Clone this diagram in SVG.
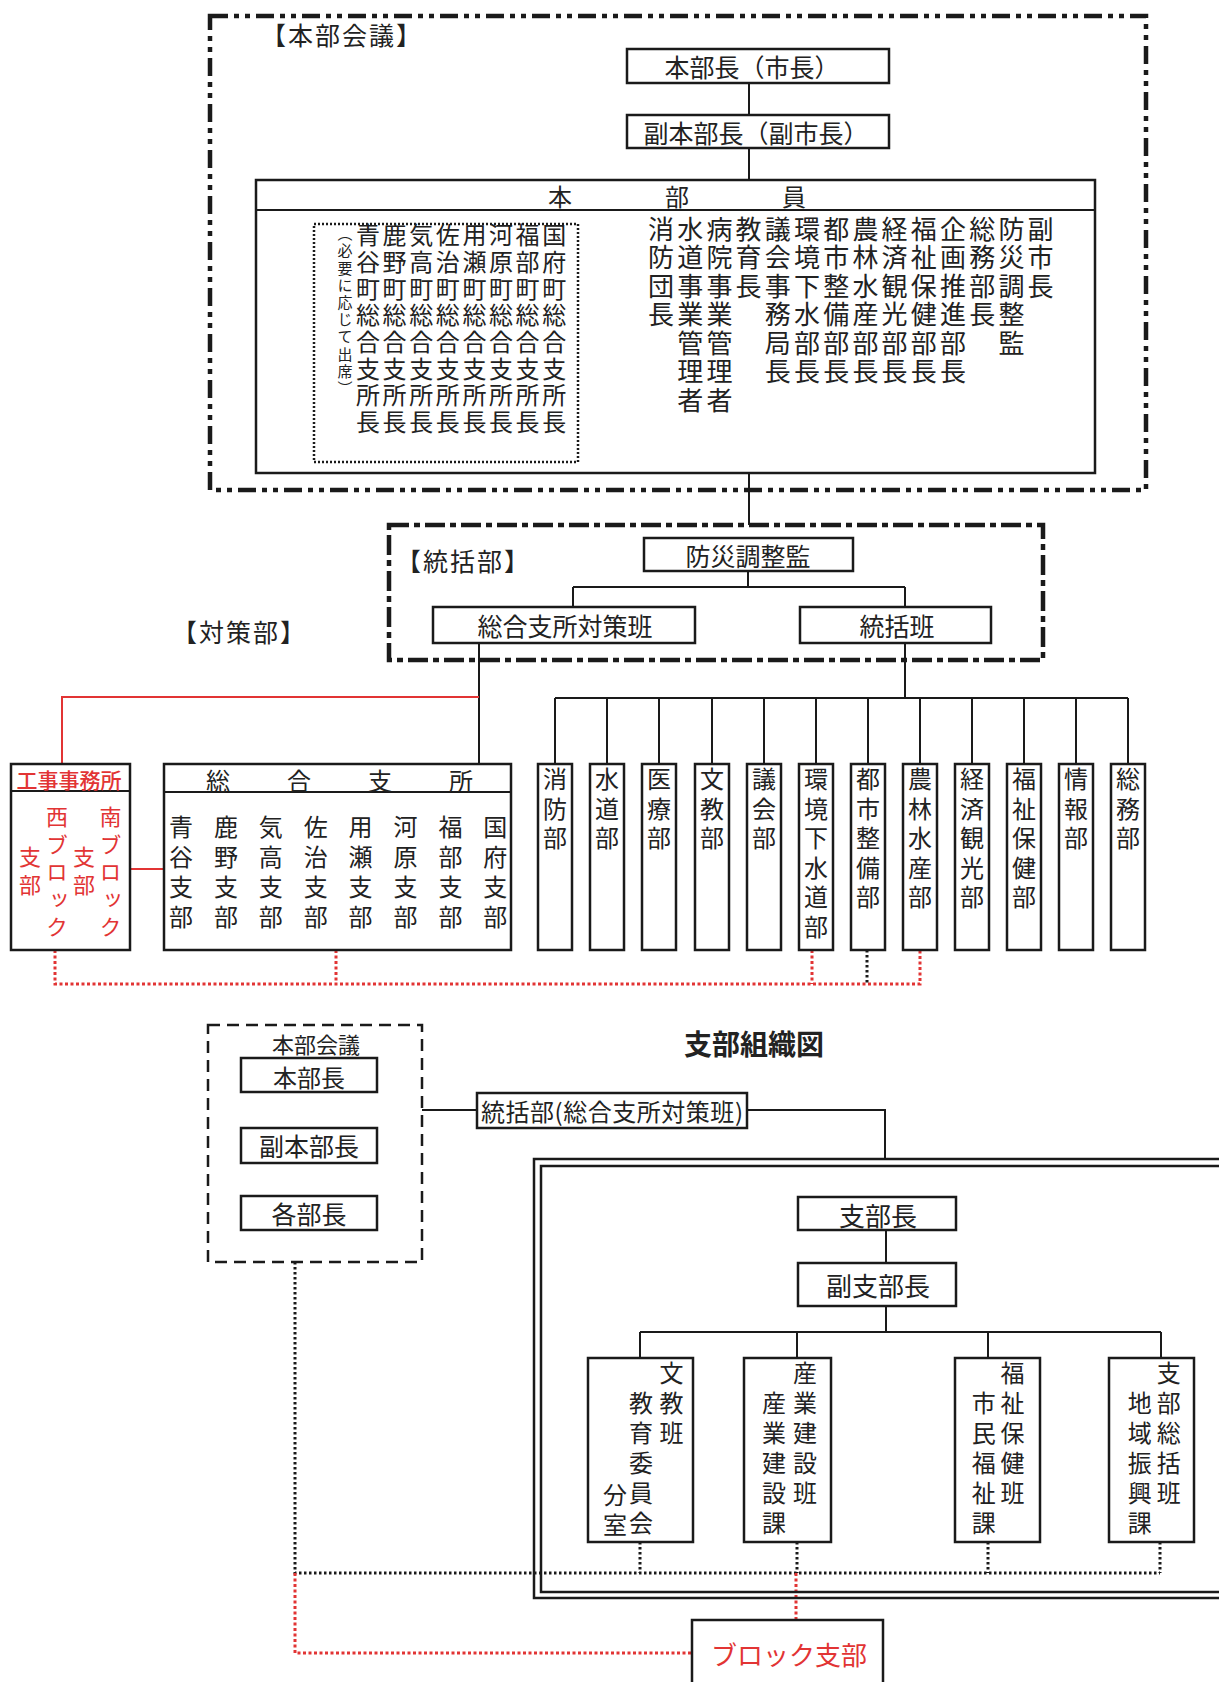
<svg xmlns="http://www.w3.org/2000/svg" width="1219" height="1682" viewBox="0 0 1219 1682">
<defs>
<style>
.t{font-family:"Noto Sans CJK JP","Noto Sans CJK SC",sans-serif;fill:#222;}
.h{text-anchor:middle;dominant-baseline:central;}
.hs{text-anchor:start;dominant-baseline:central;}
.v{writing-mode:vertical-rl;text-anchor:start;}
.r{fill:#e23434;}
.box{fill:#fff;stroke:#1a1a1a;stroke-width:2.5;}
.ln{stroke:#1a1a1a;stroke-width:2;fill:none;}
.rl{stroke:#e23434;stroke-width:2;fill:none;}
.rd{stroke:#e23434;stroke-width:3;stroke-dasharray:3 2.5;fill:none;}
.kd{stroke:#1a1a1a;stroke-width:3;stroke-dasharray:2.5 2.5;fill:none;}
.dd{fill:none;stroke:#1a1a1a;stroke-width:4.5;stroke-dasharray:18 6 5 6 5 6;}
.da{fill:none;stroke:#1a1a1a;stroke-width:4.5;stroke-dasharray:20 5 6 5;}
.dl{fill:none;stroke:#1a1a1a;stroke-width:2.5;stroke-dasharray:12 7;}
.dt{fill:none;stroke:#1a1a1a;stroke-width:2.5;stroke-dasharray:2 2;}
</style>
</defs>
<rect width="1219" height="1682" fill="#fff"/>

<g id="connectors">
<path class="ln" d="M749 83V115M749 148V180M749 473V525"/>
<path class="ln" d="M748 571V587M573 587H905M573 587V607M905 587V607"/>
<path class="ln" d="M479 643V764M905 643V698M555 698H1128"/>
<path class="ln" d="M555 698V764M607 698V764M659 698V764M712 698V764M764 698V764M816 698V764M868 698V764M920 698V764M972 698V764M1024 698V764M1076 698V764M1128 698V764"/>
<path class="rl" d="M479 697H62V764M130 869H164"/>
<path class="rd" d="M55 950V984H920V950M336 950V984M812 950V984"/>
<path class="kd" d="M867 950V984"/>
<path class="ln" d="M422 1110H477M747 1110H885V1159"/>
<path class="ln" d="M886 1230V1263M886 1306V1332M640 1332H1161M640 1332V1358M797 1332V1358M988 1332V1358M1161 1332V1358"/>
<path class="kd" d="M640 1542V1573M797 1542V1573M988 1542V1573M1160 1542V1573M295 1262V1573H1160"/>
<path class="rd" d="M295 1573V1653H692M796 1573V1624"/>
</g>

<g id="honbu-kaigi">
<rect class="dd" x="210" y="16" width="936" height="474"/>
<text class="t hs" x="261" y="34" font-size="25" letter-spacing="2">【本部会議】</text>
</g>

<g id="honbucho">
<rect class="box" x="627" y="49" width="262" height="34"/>
<text class="t h" x="752" y="66" font-size="25">本部長（市長）</text>
</g>
<g id="fukuhonbucho">
<rect class="box" x="627" y="115" width="262" height="33"/>
<text class="t h" x="756" y="132" font-size="25">副本部長（副市長）</text>
</g>

<g id="honbuin">
<rect class="box" x="256" y="180" width="839" height="293"/>
<line class="ln" x1="256" y1="210" x2="1095" y2="210"/>
<text class="t hs" x="548" y="195" font-size="24" letter-spacing="93">本部員</text>
<rect class="dt" x="314" y="224" width="264" height="238"/>
<text class="t v" x="345" y="226" font-size="15" letter-spacing="2.2">（必要に応じて出席）</text>
<g font-size="24" letter-spacing="2.7">
<text class="t v" x="368" y="223">青谷町総合支所長</text>
<text class="t v" x="394.6" y="223">鹿野町総合支所長</text>
<text class="t v" x="421.2" y="223">気高町総合支所長</text>
<text class="t v" x="447.8" y="223">佐治町総合支所長</text>
<text class="t v" x="474.4" y="223">用瀬町総合支所長</text>
<text class="t v" x="501" y="223">河原町総合支所長</text>
<text class="t v" x="527.6" y="223">福部町総合支所長</text>
<text class="t v" x="554.2" y="223">国府町総合支所長</text>
</g>
<g font-size="26" letter-spacing="2.5">
<text class="t v" x="661" y="216">消防団長</text>
<text class="t v" x="690.2" y="216">水道事業管理者</text>
<text class="t v" x="719.4" y="216">病院事業管理者</text>
<text class="t v" x="748.6" y="216">教育長</text>
<text class="t v" x="777.8" y="216">議会事務局長</text>
<text class="t v" x="807" y="216">環境下水部長</text>
<text class="t v" x="836.2" y="216">都市整備部長</text>
<text class="t v" x="865.4" y="216">農林水産部長</text>
<text class="t v" x="894.6" y="216">経済観光部長</text>
<text class="t v" x="923.8" y="216">福祉保健部長</text>
<text class="t v" x="953" y="216">企画推進部長</text>
<text class="t v" x="982.2" y="216">総務部長</text>
<text class="t v" x="1011.4" y="216">防災調整監</text>
<text class="t v" x="1040.6" y="216">副市長</text>
</g>
</g>

<g id="tokatsubu">
<rect class="da" x="389" y="525" width="654" height="135"/>
<text class="t hs" x="396" y="560" font-size="25" letter-spacing="2">【統括部】</text>
</g>
<g id="bosai-choseikan">
<rect class="box" x="644" y="538" width="209" height="33"/>
<text class="t h" x="748" y="555" font-size="25">防災調整監</text>
</g>
<g id="sogo-shisho-taisakuhan">
<rect class="box" x="433" y="607" width="262" height="36"/>
<text class="t h" x="565" y="625" font-size="25">総合支所対策班</text>
</g>
<g id="tokatsuhan">
<rect class="box" x="800" y="607" width="191" height="36"/>
<text class="t h" x="897" y="625" font-size="25">統括班</text>
</g>
<g id="taisakubu-label">
<text class="t hs" x="172" y="631" font-size="25" letter-spacing="2">【対策部】</text>
</g>

<g id="koji-jimusho">
<rect class="box" x="11" y="764" width="119" height="186"/>
<line class="ln" x1="11" y1="791" x2="130" y2="791"/>
<text class="t h r" x="69" y="779" font-size="21" font-weight="500">工事事務所</text>
<g font-size="22" letter-spacing="5.5">
<text class="t v r" x="110.5" y="806">南ブロック</text>
<text class="t v r" x="84" y="846">支部</text>
<text class="t v r" x="57" y="806">西ブロック</text>
<text class="t v r" x="30" y="846">支部</text>
</g>
</g>

<g id="sogo-shisho">
<rect class="box" x="164" y="764" width="347" height="186"/>
<line class="ln" x1="164" y1="792" x2="511" y2="792"/>
<text class="t hs" x="206" y="779" font-size="24" letter-spacing="57">総合支所</text>
<g font-size="24" letter-spacing="6">
<text class="t v" x="181" y="815">青谷支部</text>
<text class="t v" x="225.9" y="815">鹿野支部</text>
<text class="t v" x="270.8" y="815">気高支部</text>
<text class="t v" x="315.7" y="815">佐治支部</text>
<text class="t v" x="360.6" y="815">用瀬支部</text>
<text class="t v" x="405.5" y="815">河原支部</text>
<text class="t v" x="450.4" y="815">福部支部</text>
<text class="t v" x="495.3" y="815">国府支部</text>
</g>
</g>

<g id="depts" font-size="24" letter-spacing="5.5">
<g id="shobobu"><rect class="box" x="538" y="764" width="34" height="186"/><text class="t v" x="555" y="767">消防部</text></g>
<g id="suidobu"><rect class="box" x="590" y="764" width="34" height="186"/><text class="t v" x="607" y="767">水道部</text></g>
<g id="iryobu"><rect class="box" x="642" y="764" width="34" height="186"/><text class="t v" x="659" y="767">医療部</text></g>
<g id="bunkyobu"><rect class="box" x="695" y="764" width="34" height="186"/><text class="t v" x="712" y="767">文教部</text></g>
<g id="gikaibu"><rect class="box" x="747" y="764" width="34" height="186"/><text class="t v" x="764" y="767">議会部</text></g>
<g id="kankyobu"><rect class="box" x="799" y="764" width="34" height="186"/><text class="t v" x="816" y="767">環境下水道部</text></g>
<g id="toshibu"><rect class="box" x="851" y="764" width="34" height="186"/><text class="t v" x="868" y="767">都市整備部</text></g>
<g id="norinbu"><rect class="box" x="903" y="764" width="34" height="186"/><text class="t v" x="920" y="767">農林水産部</text></g>
<g id="keizaibu"><rect class="box" x="955" y="764" width="34" height="186"/><text class="t v" x="972" y="767">経済観光部</text></g>
<g id="fukushibu"><rect class="box" x="1007" y="764" width="34" height="186"/><text class="t v" x="1024" y="767">福祉保健部</text></g>
<g id="johobu"><rect class="box" x="1059" y="764" width="34" height="186"/><text class="t v" x="1076" y="767">情報部</text></g>
<g id="somubu"><rect class="box" x="1111" y="764" width="34" height="186"/><text class="t v" x="1128" y="767">総務部</text></g>
</g>

<g id="title">
<text class="t h" x="754" y="1043" font-size="28" font-weight="bold">支部組織図</text>
</g>

<g id="b-honbu-kaigi">
<rect class="dl" x="208" y="1025" width="214" height="237"/>
<text class="t h" x="316" y="1043" font-size="22">本部会議</text>
</g>
<g id="b-honbucho"><rect class="box" x="241" y="1058" width="136" height="34"/><text class="t h" x="309" y="1076" font-size="24">本部長</text></g>
<g id="b-fukuhonbucho"><rect class="box" x="241" y="1128" width="136" height="35"/><text class="t h" x="309" y="1145" font-size="25">副本部長</text></g>
<g id="b-kakubucho"><rect class="box" x="241" y="1196" width="136" height="34"/><text class="t h" x="309" y="1213" font-size="25">各部長</text></g>
<g id="b-tokatsubu"><rect class="box" x="477" y="1093" width="270" height="35"/><text class="t hs" x="481" y="1110" font-size="24" textLength="262" lengthAdjust="spacing">統括部(総合支所対策班)</text></g>

<g id="shibu">
<rect fill="none" stroke="#1a1a1a" stroke-width="2.5" x="534" y="1159" width="720" height="439"/>
<rect fill="none" stroke="#1a1a1a" stroke-width="2.5" x="541" y="1166" width="720" height="426"/>
</g>
<g id="shibucho"><rect class="box" x="798" y="1197" width="158" height="33"/><text class="t h" x="878" y="1214" font-size="26">支部長</text></g>
<g id="fukushibucho"><rect class="box" x="798" y="1263" width="158" height="43"/><text class="t h" x="878" y="1284" font-size="26">副支部長</text></g>

<g font-size="24" letter-spacing="6">
<g id="bunkyohan"><rect class="box" x="588" y="1358" width="105" height="184"/>
<text class="t v" x="671.6" y="1361">文教班</text>
<text class="t v" x="641" y="1391">教育委員会</text>
<text class="t v" x="615" y="1483">分室</text></g>
<g id="sangyokensetsuhan"><rect class="box" x="744" y="1358" width="87" height="184"/>
<text class="t v" x="805" y="1361">産業建設班</text>
<text class="t v" x="774" y="1391">産業建設課</text></g>
<g id="fukushihokenhan"><rect class="box" x="955" y="1358" width="85" height="184"/>
<text class="t v" x="1012.6" y="1361">福祉保健班</text>
<text class="t v" x="983.7" y="1391">市民福祉課</text></g>
<g id="shibusokatsuhan"><rect class="box" x="1109" y="1358" width="85" height="184"/>
<text class="t v" x="1168.7" y="1361">支部総括班</text>
<text class="t v" x="1139.7" y="1391">地域振興課</text></g>
</g>

<g id="block-shibu">
<rect class="box" x="692" y="1620" width="191" height="80"/>
<text class="t h r" x="789" y="1653" font-size="26">ブロック支部</text>
</g>
</svg>
